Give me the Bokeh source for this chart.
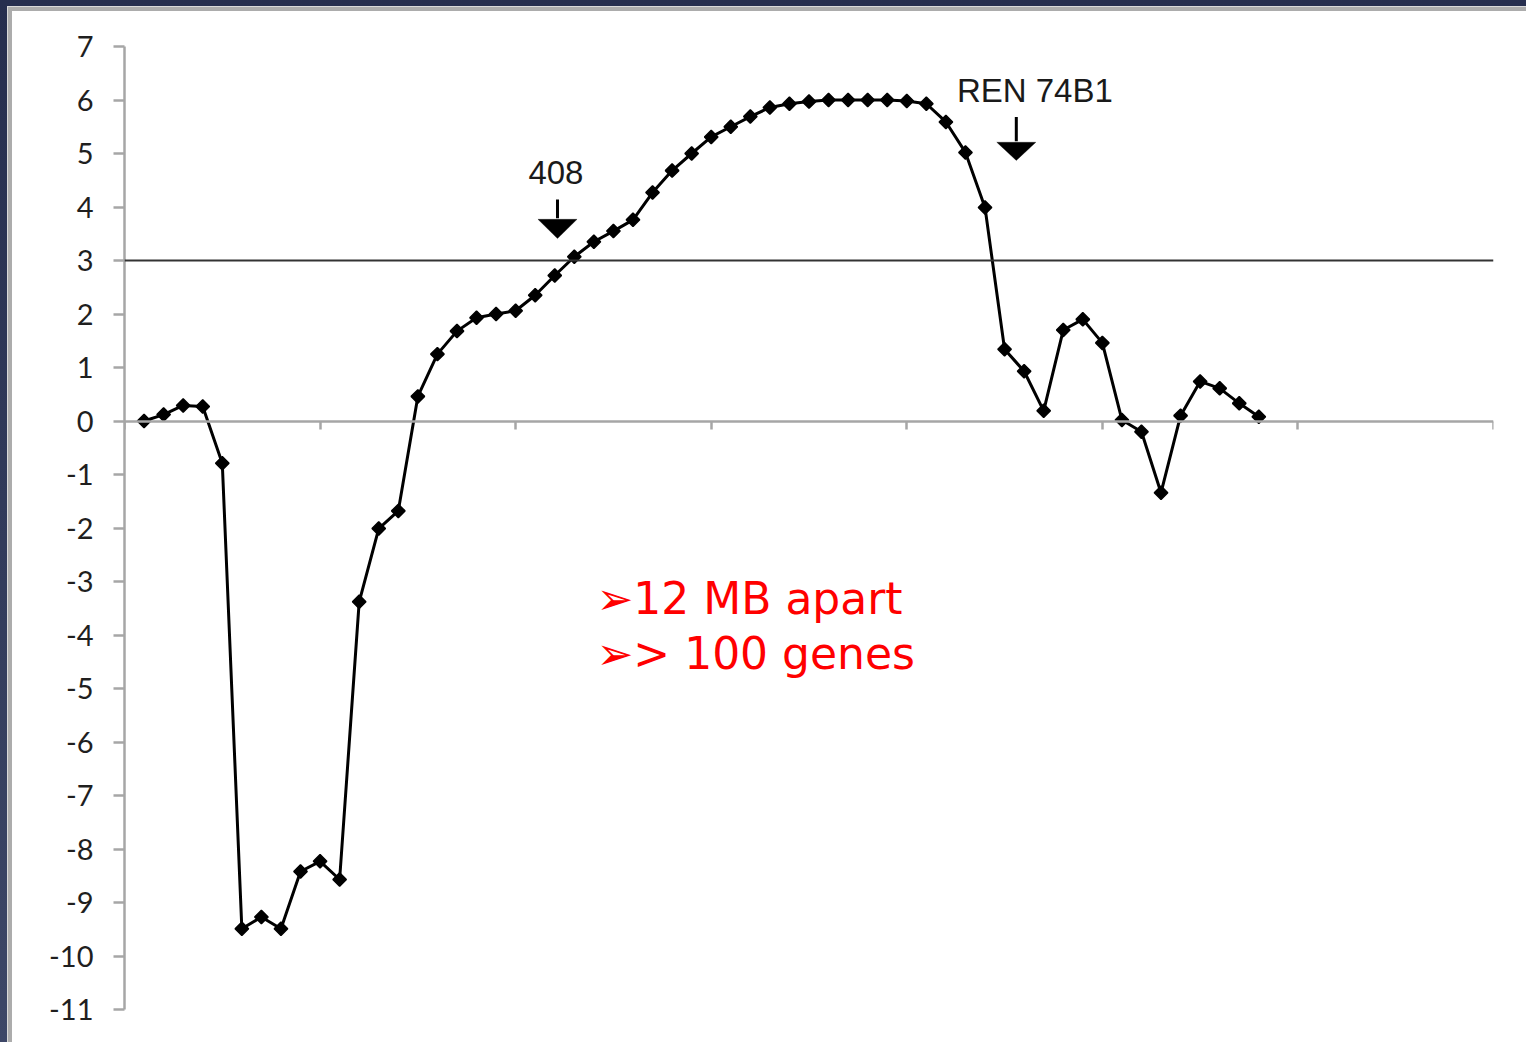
from bokeh.plotting import figure
from bokeh.models import (Range1d, LinearAxis, FixedTicker, Span, Label, Arrow,
                          PolyAnnotation, GlobalInlineStyleSheet)
from bokeh.embed import file_html
from bokeh.resources import INLINE
import math

# ---- data ----
positions = list(range(1, 59))
scores = [0.0, 0.12, 0.29, 0.27, -0.79, -9.49, -9.27, -9.49, -8.42, -8.23,
          -8.57, -3.38, -2.01, -1.68, 0.46, 1.25, 1.68, 1.93, 2.0, 2.06,
          2.35, 2.72, 3.07, 3.35, 3.55, 3.76, 4.27, 4.68, 5.0, 5.31,
          5.5, 5.69, 5.86, 5.93, 5.97, 6.0, 6.0, 6.0, 6.0, 5.98,
          5.93, 5.59, 5.02, 3.99, 1.34, 0.93, 0.19, 1.7, 1.9, 1.46,
          0.02, -0.2, -1.34, 0.1, 0.74, 0.61, 0.33, 0.08]
y_ticks = list(range(-11, 8))
y_tick_labels = [str(t) for t in y_ticks]
x_ticks = [0, 10, 20, 30, 40, 50, 60, 70]
threshold = 3
marker_labels = ["408", "REN 74B1"]
notes = ["\u27a212 MB apart", "\u27a2> 100 genes"]

page_css = GlobalInlineStyleSheet(css="""
html, body { margin: 0; padding: 0; overflow: hidden;
             background: linear-gradient(180deg, #262e4e 0%, #3d4767 100%); }
body { padding: 7px 0 0 8px; min-height: 1042px; box-sizing: border-box; }
""")

p = figure(frame_width=1369, frame_height=963,
           x_range=Range1d(0, 70), y_range=Range1d(-11, 7),
           output_backend="svg", toolbar_location=None,
           x_axis_location=None, y_axis_location="left",
           min_border_left=112, min_border_right=33,
           min_border_top=35, min_border_bottom=33,
           background_fill_color="white", border_fill_color="white")
p.stylesheets = [page_css]
p.styles = {"border-left": "4px solid #acacac", "border-top": "4px solid #acacac",
            "outline": "1px solid #d9d9d9", "background-color": "white"}
p.outline_line_color = None
p.xgrid.visible = False
p.ygrid.visible = False

# y axis
ya = p.yaxis[0]
ya.ticker = FixedTicker(ticks=y_ticks)
ya.major_label_overrides = dict(zip(y_ticks, y_tick_labels))
ya.axis_line_color = "#a6a6a6"
ya.axis_line_width = 2.5
ya.major_tick_line_color = "#a6a6a6"
ya.major_tick_line_width = 2.5
ya.major_tick_out = 11
ya.major_tick_in = 0
ya.minor_tick_line_color = None
ya.major_label_text_font = "Lato"
ya.major_label_text_font_size = "29px"
ya.major_label_text_color = "#1f1f1f"
ya.major_label_standoff = 20

# x axis drawn at y = 0
xa = LinearAxis(fixed_location=0, ticker=FixedTicker(ticks=x_ticks))
xa.axis_line_color = "#a6a6a6"
xa.axis_line_width = 2.5
xa.major_tick_line_color = "#a6a6a6"
xa.major_tick_line_width = 2.5
xa.major_tick_out = 8
xa.major_tick_in = 0
xa.minor_tick_line_color = None
xa.major_label_overrides = {t: "" for t in x_ticks}
xa.major_label_text_font_size = "1px"
xa.major_label_standoff = 0
p.add_layout(xa, "below")

# threshold line
p.add_layout(Span(location=threshold, dimension="width", line_color="#333333", line_width=1.8))

# series
p.line(positions, scores, line_color="black", line_width=3)
p.scatter(positions, scores, marker="square", angle=math.pi / 4, size=9.5,
          fill_color="black", line_color="black", line_width=1.5)

# annotations: labels with downward arrows
def marker_arrow(x, y_top, y_head, y_tip, half_w):
    p.add_layout(Arrow(x_start=x, y_start=y_top, x_end=x, y_end=y_head + 0.02,
                       end=None, line_width=3, line_color="black"))
    p.add_layout(PolyAnnotation(xs=[x - half_w, x + half_w, x], ys=[y_head, y_head, y_tip],
                                fill_color="black", fill_alpha=1.0, line_color="black",
                                line_width=1))

p.add_layout(Label(x=22.06, y=4.64, text=marker_labels[0], text_align="center",
                   text_baseline="alphabetic", text_font="Liberation Sans",
                   text_font_size="33px", text_color="#1a1a1a"))
marker_arrow(22.14, 4.14, 3.77, 3.41, 1.0)

p.add_layout(Label(x=46.55, y=6.17, text=marker_labels[1], text_align="center",
                   text_baseline="alphabetic", text_font="Liberation Sans",
                   text_font_size="33px", text_color="#1a1a1a"))
marker_arrow(45.6, 5.68, 5.21, 4.87, 1.0)

# red notes
p.add_layout(Label(x=24.13, y=-3.31, text=notes[0], text_align="left",
                   text_baseline="alphabetic", text_font="DejaVu Sans",
                   text_font_size="44px", text_color="#ff0000"))
p.add_layout(Label(x=24.13, y=-4.34, text=notes[1], text_align="left",
                   text_baseline="alphabetic", text_font="DejaVu Sans",
                   text_font_size="44px", text_color="#ff0000"))

open("out.html", "w").write(file_html(p, INLINE))
